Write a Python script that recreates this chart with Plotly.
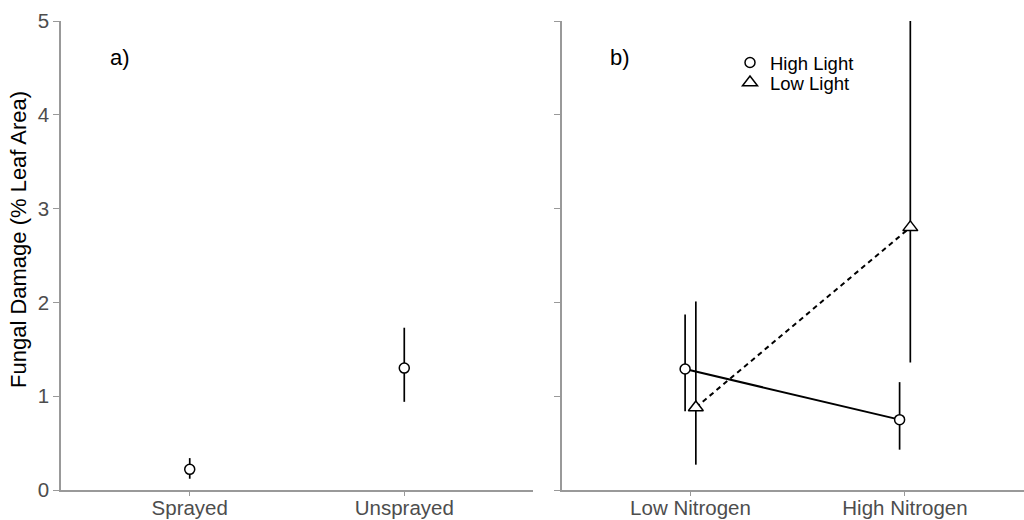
import plotly.graph_objects as go

# ---------------- data ----------------
# panel a)
spray_labels = ["Sprayed", "Unsprayed"]
spray_mean = [0.22, 1.30]
spray_lower = [0.12, 0.94]
spray_upper = [0.34, 1.73]

# panel b)
nitrogen_labels = ["Low Nitrogen", "High Nitrogen"]
high_light_mean = [1.29, 0.75]
high_light_lower = [0.84, 0.43]
high_light_upper = [1.87, 1.15]
low_light_mean = [0.88, 2.80]
low_light_lower = [0.27, 1.36]
low_light_upper = [2.01, 5.00]

y_ticks = [0, 1, 2, 3, 4, 5]
dodge = 0.025

FONT = "Liberation Sans, Arial, sans-serif"
TICK_GRAY = "#4D4D4D"
AXIS_GRAY = "#999999"


def plus(u, m):
    return [a - b for a, b in zip(u, m)]


def minus(m, l):
    return [a - b for a, b in zip(m, l)]


fig = go.Figure()

pos_a = list(range(1, len(spray_labels) + 1))
pos_b = list(range(1, len(nitrogen_labels) + 1))

circle_marker = dict(symbol="circle", size=10, color="white",
                     line=dict(color="black", width=1.5))
tri_marker = dict(symbol="triangle-up", size=13, color="white",
                  line=dict(color="black", width=1.5))

# panel a
fig.add_trace(go.Scatter(
    x=pos_a, y=spray_mean, mode="markers", xaxis="x", yaxis="y",
    marker=circle_marker,
    error_y=dict(type="data", symmetric=False,
                 array=plus(spray_upper, spray_mean),
                 arrayminus=minus(spray_mean, spray_lower),
                 width=0, thickness=1.7, color="black"),
    showlegend=False, hoverinfo="skip"))

# panel b - High Light
fig.add_trace(go.Scatter(
    x=[p - dodge for p in pos_b], y=high_light_mean, mode="lines+markers",
    xaxis="x2", yaxis="y2",
    line=dict(color="black", width=2),
    marker=circle_marker,
    error_y=dict(type="data", symmetric=False,
                 array=plus(high_light_upper, high_light_mean),
                 arrayminus=minus(high_light_mean, high_light_lower),
                 width=0, thickness=1.7, color="black"),
    showlegend=False, hoverinfo="skip"))

# panel b - Low Light
fig.add_trace(go.Scatter(
    x=[p + dodge for p in pos_b], y=low_light_mean, mode="lines+markers",
    xaxis="x2", yaxis="y2",
    line=dict(color="black", width=2, dash="5px,4px"),
    marker=tri_marker,
    error_y=dict(type="data", symmetric=False,
                 array=plus(low_light_upper, low_light_mean),
                 arrayminus=minus(low_light_mean, low_light_lower),
                 width=0, thickness=1.7, color="black"),
    showlegend=False, hoverinfo="skip"))

# legend entries (two legends so rows can sit closer together)
fig.add_trace(go.Scatter(
    x=[None], y=[None], mode="markers", name="High Light", xaxis="x2", yaxis="y2",
    marker=circle_marker, legend="legend"))
fig.add_trace(go.Scatter(
    x=[None], y=[None], mode="markers", name="Low Light", xaxis="x2", yaxis="y2",
    marker=tri_marker, legend="legend2"))

L, R, T, B = 61, 0, 21, 30
W, H = 1024, 520
pw = W - L - R
ph = H - T - B


def px_x(px):
    return (px - L) / pw


def px_y(py):
    return 1 - (py - T) / ph


axis_common = dict(showgrid=False, zeroline=False, showline=True,
                   linecolor=AXIS_GRAY, linewidth=1.5, ticks="outside",
                   tickcolor=AXIS_GRAY, tickwidth=1, automargin=False,
                   tickfont=dict(family=FONT, size=20.5, color=TICK_GRAY))

legend_common = dict(xanchor="left", yanchor="top",
                     bgcolor="rgba(0,0,0,0)", borderwidth=0,
                     font=dict(family=FONT, size=18.5, color="black"))

fig.update_layout(
    width=W, height=H,
    margin=dict(l=L, r=R, t=T, b=B, autoexpand=False),
    paper_bgcolor="white", plot_bgcolor="white",
    font=dict(family=FONT),
    xaxis=dict(domain=[0, px_x(533)], range=[0.4, 2.6],
               tickvals=pos_a, ticktext=spray_labels, ticklen=4,
               ticklabelstandoff=-5, anchor="y", **axis_common),
    yaxis=dict(domain=[0, 1], range=[0, 5], tickvals=y_ticks, ticklen=6,
               anchor="x", **axis_common),
    xaxis2=dict(domain=[px_x(562), 1], range=[0.401, 2.555],
                tickvals=pos_b, ticktext=nitrogen_labels, ticklen=4,
                ticklabelstandoff=-5, anchor="y2", **axis_common),
    yaxis2=dict(domain=[0, 1], range=[0, 5], tickvals=y_ticks, ticklen=6,
                showticklabels=False, anchor="x2", **axis_common),
    legend=dict(x=px_x(730), y=px_y(44), **legend_common),
    legend2=dict(x=px_x(730), y=px_y(64), **legend_common),
    showlegend=True,
)

fig.add_annotation(text="a)", xref="x domain", yref="y domain",
                   x=0.0996, y=0.923, xanchor="left", yanchor="middle",
                   showarrow=False, font=dict(family=FONT, size=22, color="black"))
fig.add_annotation(text="b)", xref="x2 domain", yref="y2 domain",
                   x=0.0996, y=0.923, xanchor="left", yanchor="middle",
                   showarrow=False, font=dict(family=FONT, size=22, color="black"))
fig.add_annotation(text="Fungal Damage (% Leaf Area)", xref="paper", yref="paper",
                   x=px_x(18), y=px_y(240), xanchor="center", yanchor="middle",
                   textangle=-90, showarrow=False,
                   font=dict(family=FONT, size=22, color="black"))

fig.write_html(
    "out.html",
    config={"displayModeBar": False},
    post_script="document.body.style.margin='0';document.body.style.padding='0';"
                "document.body.style.overflow='hidden';",
)
